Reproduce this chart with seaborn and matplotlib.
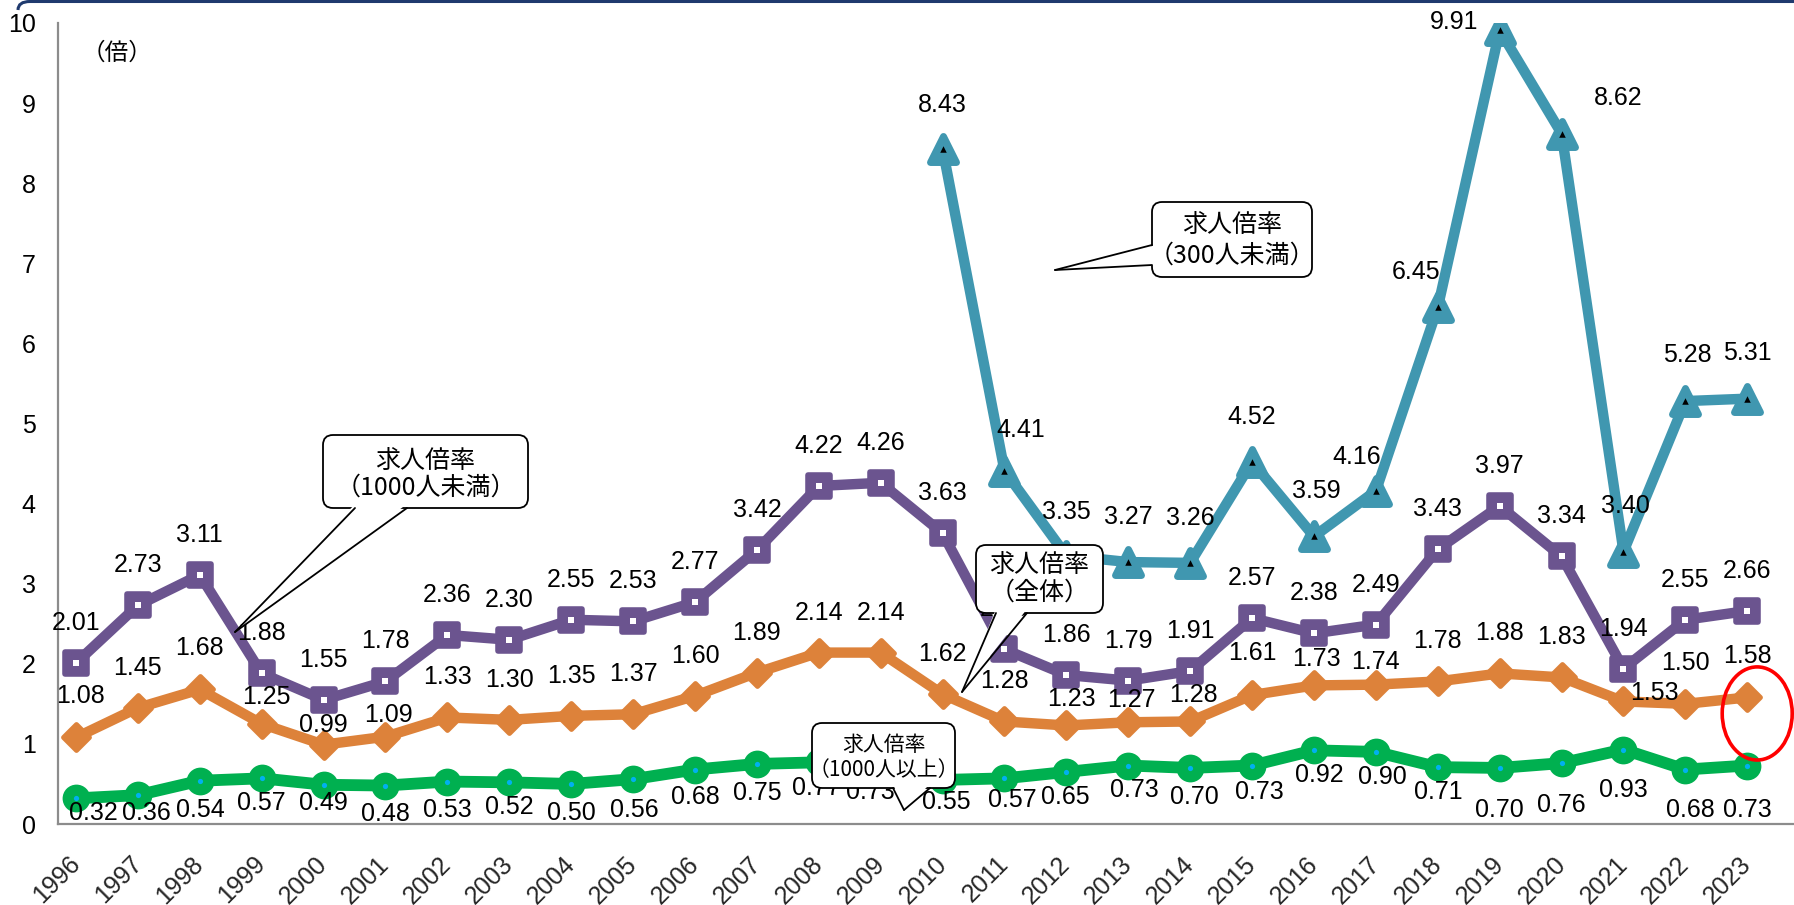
import matplotlib
matplotlib.use("Agg")
import numpy as np
import pandas as pd
import seaborn as sns
import matplotlib.pyplot as plt
from matplotlib.markers import MarkerStyle
from matplotlib.patches import FancyBboxPatch, Polygon, Ellipse, PathPatch
from matplotlib.lines import Line2D
from matplotlib.path import Path
from matplotlib.transforms import IdentityTransform, ScaledTranslation

# ---------------- data ----------------
years = list(range(1996, 2024))
under_1000 = [2.01, 2.73, 3.11, 1.88, 1.55, 1.78, 2.36, 2.30, 2.55, 2.53, 2.77, 3.42, 4.22, 4.26,
              3.63, 2.18, 1.86, 1.79, 1.91, 2.57, 2.38, 2.49, 3.43, 3.97, 3.34, 1.94, 2.55, 2.66]
overall = [1.08, 1.45, 1.68, 1.25, 0.99, 1.09, 1.33, 1.30, 1.35, 1.37, 1.60, 1.89, 2.14, 2.14,
           1.62, 1.28, 1.23, 1.27, 1.28, 1.61, 1.73, 1.74, 1.78, 1.88, 1.83, 1.53, 1.50, 1.58]
over_1000 = [0.32, 0.36, 0.54, 0.57, 0.49, 0.48, 0.53, 0.52, 0.50, 0.56, 0.68, 0.75, 0.77, 0.73,
             0.55, 0.57, 0.65, 0.73, 0.70, 0.73, 0.92, 0.90, 0.71, 0.70, 0.76, 0.93, 0.68, 0.73]
years_300 = list(range(2010, 2024))
under_300 = [8.43, 4.41, 3.35, 3.27, 3.26, 4.52, 3.59, 4.16, 6.45, 9.91, 8.62, 3.40, 5.28, 5.31]

y_ticks = list(range(0, 11))
unit_label = "（倍）"
callout_under_1000 = ["求人倍率", "（1000人未満）"]
callout_under_300 = ["求人倍率", "（300人未満）"]
callout_overall = ["求人倍率", "（全体）"]
callout_over_1000 = ["求人倍率", "（1000人以上）"]

# ---------------- label placement (pixel offsets, x right / y up) ----------------
off_under_1000 = [(0, 40)] * len(years)
off_overall = [(5, 41), (0, 40), (0, 41), (5, 27), (0, 20), (3, 22), (0, 40), (0, 40), (0, 40),
               (0, 40), (0, 40), (0, 40), (0, 40), (0, 40), (0, 40), (0, 40), (5, 26), (3, 22),
               (3, 26), (0, 42), (2, 26), (0, 23), (0, 40), (0, 40), (0, 40), (31, 8), (0, 41),
               (0, 41)]
off_over_1000 = [(17, -15), (8, -18), (1, -29), (0, -25), (0, -18), (0, -28), (0, -28), (0, -25),
                 (0, -29), (1, -31), (0, -27), (0, -29), (-2, -26), (-10, -26), (4, -22),
                 (8, -22), (-1, -25), (6, -24), (4, -29), (7, -26), (5, -25), (6, -25), (1, -25),
                 (0, -42), (0, -42), (0, -40), (5, -40), (0, -44)]
off_under_300 = [(0, 44), (16, 41), (0, 44), (0, 45), (0, 45), (0, 45), (2, 45), (-19, 34),
                 (-22, 35), (-46, 8), (57, 36), (2, 46), (2, 46), (0, 46)]

# ---------------- styling ----------------
W, H, DPI = 1794, 905, 100
C_PURPLE = "#6B548F"
C_ORANGE = "#DD823A"
C_GREEN = "#00B050"
C_TEAL = "#4097B0"
C_AXIS = "#8C8C8C"

sns.set_style("white")
plt.rcParams["font.family"] = ["Liberation Sans", "Noto Sans CJK JP", "DejaVu Sans"]
CJK = ["Noto Sans CJK JP", "DejaVu Sans"]
NUM_FS = 18

fig = plt.figure(figsize=(W / DPI, H / DPI), dpi=DPI)
fig.patch.set_facecolor("white")

# plot area: y axis at x=58px, baseline at y=824px, value 10 at y=23px
x_left, y_base, y_top = 58, 824, 23
px_per_year, x_1996 = 61.9, 76
ax = fig.add_axes([x_left / W, (H - y_base) / H, (W - x_left) / W, (y_base - y_top) / H])
ax.set_xlim(1996 + (x_left - x_1996) / px_per_year, 1996 + (W - x_1996) / px_per_year)
ax.set_ylim(0, 10)
ax.set_facecolor("none")

for s in ["top", "right"]:
    ax.spines[s].set_visible(False)
for s in ["left", "bottom"]:
    ax.spines[s].set_color(C_AXIS)
    ax.spines[s].set_linewidth(1.6)

ax.set_yticks(y_ticks)
ax.set_yticklabels([str(t) for t in y_ticks])
ax.tick_params(axis="y", direction="in", length=6, width=1.3, color=C_AXIS,
               labelsize=NUM_FS, pad=16, labelcolor="black")

ax.set_xticks(years)
ax.set_xticklabels([str(y) for y in years], rotation=45, ha="right", va="top",
                   rotation_mode="anchor")
ax.tick_params(axis="x", which="major", length=0, labelsize=NUM_FS, pad=20)
ax.set_xticks(np.arange(1995.855, 2023.76, 1 / 3), minor=True)
ax.tick_params(axis="x", which="minor", direction="out", length=6, width=1.3, color=C_AXIS)
shift = ScaledTranslation(-6 / 72, 0, fig.dpi_scale_trans)
for lab in ax.get_xticklabels():
    lab.set_transform(lab.get_transform() + shift)
ax.set_xlabel("")
ax.set_ylabel("")


def series(xs, ys, color, lw, marker, ms, mew, zo):
    sns.lineplot(x=xs, y=ys, ax=ax, color=color, lw=lw,
                 marker=MarkerStyle(marker, joinstyle="round"), ms=ms, mec=color, mew=mew,
                 mfc=color, solid_joinstyle="round", solid_capstyle="round", zorder=zo)


series(years, over_1000, C_GREEN, 8.5, "o", 17, 3, 3)
series(years, overall, C_ORANGE, 7.5, "D", 13, 3.5, 3)
series(years, under_1000, C_PURPLE, 7.5, "s", 16, 4, 4)
series(years_300, under_300, C_TEAL, 7.5, "^", 19, 5, 4)

# small centre marks inside the markers
sns.scatterplot(x=years, y=over_1000, ax=ax, marker="o", s=14, color="#00B0F0", linewidth=0, zorder=5)
sns.scatterplot(x=years, y=under_1000, ax=ax, marker="s", s=14, color="white", linewidth=0, zorder=5)
sns.scatterplot(x=years_300, y=under_300, ax=ax, marker="^", s=22, color="black", linewidth=0, zorder=5)


def labels(xs, ys, offsets):
    for x, v, (dx, dy) in zip(xs, ys, offsets):
        ax.annotate(f"{v:.2f}", (x, v), xytext=(dx, dy), textcoords="offset pixels",
                    ha="center", va="center", fontsize=NUM_FS, color="black", zorder=7,
                    annotation_clip=False)


labels(years, under_1000, off_under_1000)
labels(years, overall, off_overall)
labels(years, over_1000, off_over_1000)
labels(years_300, under_300, off_under_300)


# ---------------- callouts (pixel layout, origin top-left) ----------------
def P(x, y):
    return (x, H - y)


def callout(lines, box, base, tip, text_y, fs, inward):
    x0, y0, x1, y1 = box
    ident = IdentityTransform()
    bx = FancyBboxPatch(P(x0, y1), x1 - x0, y1 - y0,
                        boxstyle="round,pad=0,rounding_size=10", transform=ident,
                        facecolor="white", edgecolor="black", linewidth=1.3, zorder=20)
    fig.add_artist(bx)
    (ax_, ay_), (bx_, by_) = base
    ix, iy = inward
    cover = Polygon([P(ax_ + ix, ay_ + iy), P(bx_ + ix, by_ + iy), P(*tip)], closed=True,
                    transform=ident, facecolor="white", edgecolor="none", zorder=21)
    fig.add_artist(cover)
    for (qx, qy) in base:
        fig.add_artist(Line2D([P(qx, qy)[0], P(*tip)[0]], [P(qx, qy)[1], P(*tip)[1]],
                              transform=ident, color="black", lw=1.3, zorder=22,
                              solid_capstyle="round"))
    cx = (x0 + x1) / 2
    for txt, ty in zip(lines, text_y):
        fig.text(cx / W, 1 - ty / H, txt, ha="center", va="center", fontsize=fs,
                 family=CJK, color="black", zorder=23)


callout(callout_under_1000, (323, 435, 528, 508), [(355, 508), (407, 508)], (235, 632),
        (461, 488), 18, (0, -4))
callout(callout_under_300, (1152, 202, 1312, 277), [(1152, 245), (1152, 265)], (1055, 270),
        (225, 256), 18, (4, 0))
callout(callout_overall, (976, 545, 1103, 613), [(996, 613), (1027, 613)], (962, 692),
        (565, 593), 18, (0, -4))
callout(callout_over_1000, (812, 723, 955, 788), [(893, 788), (930, 788)], (904, 810),
        (745, 770), 15, (0, -4))

# highlight ring around the latest overall value
ring = Ellipse((2023.16, 1.38), 70 / px_per_year, 93 / 80, facecolor="none",
               edgecolor="#FF0000", linewidth=2.6, zorder=8, clip_on=False)
ax.add_patch(ring)

# unit note
fig.text(117 / W, 1 - 53 / H, unit_label, ha="center", va="center", fontsize=17,
         family=CJK, color="black")

# frame edge along the top
frame = Path([P(18, 10), P(18, 1.5), P(30, 1.5), P(W + 5, 1.5)],
             [Path.MOVETO, Path.CURVE3, Path.CURVE3, Path.LINETO])
fig.add_artist(PathPatch(frame, transform=IdentityTransform(), facecolor="none",
                         edgecolor="#1F3A6E", linewidth=2.2, zorder=30))

fig.savefig("out.png", dpi=DPI, facecolor="white")
